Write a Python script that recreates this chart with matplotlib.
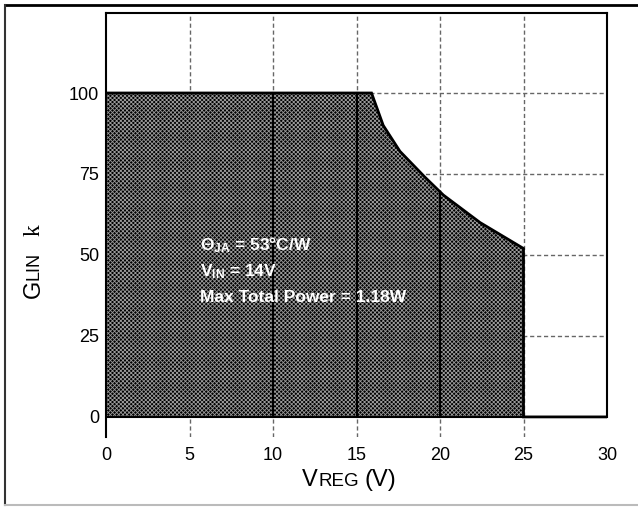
import matplotlib
matplotlib.use("Agg")
import matplotlib.pyplot as plt
import numpy as np
from matplotlib.lines import Line2D

plt.rcParams['font.family'] = ['Liberation Sans', 'DejaVu Sans']
plt.rcParams['mathtext.fontset'] = 'custom'
plt.rcParams['mathtext.rm'] = 'Liberation Sans:bold'
plt.rcParams['mathtext.it'] = 'Liberation Sans:italic'
plt.rcParams['hatch.linewidth'] = 0.6

# Data: safe operating area boundary
v_reg = [0, 15.9, 16.6, 17.6, 19.1, 20.2, 22.4, 25.0, 25.0, 30.0]
g_lin = [100, 100, 90, 82, 74, 68.5, 60, 52, 0, 0]
x_ticks = [0, 5, 10, 15, 20, 25, 30]
y_ticks = [0, 25, 50, 75, 100]
notes = [r"$\Theta_{\mathrm{JA}}$ = 53°C/W", r"V$_{\mathrm{IN}}$ = 14V", "Max Total Power = 1.18W"]
note_y = [53, 45, 37]

W, H = 638, 507
fig = plt.figure(figsize=(W / 100, H / 100), dpi=100)
ax = fig.add_axes([106 / W, 1 - 437 / H, (607 - 106) / W, (437 - 13) / H])
ax.set_xlim(0, 30)
ax.set_ylim(-6.2, 124.7)

# grid
for xv in x_ticks[1:-1]:
    ax.axvline(xv, color='#666666', lw=1, ls=(0, (3, 2)), zorder=1)
for yv in y_ticks[1:]:
    ax.axhline(yv, color='#666666', lw=1, ls=(0, (3, 2)), zorder=1)

vx = np.array(v_reg)
gy = np.array(g_lin)
ax.fill_between(vx, 0, gy, facecolor='#000000', edgecolor='#9a9a9a', hatch='xxxxxxxx', lw=0, zorder=2)
# dark grid lines visible inside the shaded area
for xv in x_ticks[2:-2]:
    ax.plot([xv, xv], [0, np.interp(xv, vx[:8], gy[:8])], color='black', lw=1.5, zorder=3)
ax.plot(vx, gy, color='black', lw=2, zorder=4, solid_joinstyle='miter')
ax.plot([0, 25], [0, 0], color='black', lw=1.5, zorder=4)

for t, yv in zip(notes, note_y):
    ax.text(5.6, yv, t, color='white', fontsize=12.5, fontweight='bold', va='center', ha='left', zorder=5)

ax.set_xticks(x_ticks)
ax.set_yticks(y_ticks)
ax.tick_params(axis='both', length=0, labelsize=13)
ax.tick_params(axis='x', pad=7)
ax.tick_params(axis='y', pad=5)
for s in ['left', 'top', 'right']:
    ax.spines[s].set_linewidth(1.5)
ax.spines['bottom'].set_visible(False)
ax.spines['right'].set_bounds(0, 124.7)

# axis labels built from pieces
fig.text(302 / W, 1 - 486 / H, "V", fontsize=17, ha='left', va='baseline')
fig.text(318 / W, 1 - 486 / H, "REG", fontsize=13.5, ha='left', va='baseline')
fig.text(365 / W, 1 - 486 / H, "(V)", fontsize=17, ha='left', va='baseline')
fig.text(45 / W, 1 - 298 / H, "G", fontsize=17, rotation=90, ha='right', va='bottom')
fig.text(43 / W, 1 - 280 / H, "LIN", fontsize=13, rotation=90, ha='right', va='bottom')
fig.text(45 / W, 1 - 236 / H, "k", fontsize=17, rotation=90, ha='right', va='bottom', family='Liberation Serif')

# figure frame
fig.add_artist(Line2D([5 / W, 1.01], [1 - 5 / H, 1 - 5 / H], transform=fig.transFigure, color='black', lw=2))
fig.add_artist(Line2D([5 / W, 5 / W], [1 - 5 / H, 1 - 505 / H], transform=fig.transFigure, color='#333333', lw=1.5))
fig.add_artist(Line2D([5 / W, 1.01], [1 - 505 / H, 1 - 505 / H], transform=fig.transFigure, color='#bbbbbb', lw=1.5))

fig.savefig("out.png", dpi=100)
